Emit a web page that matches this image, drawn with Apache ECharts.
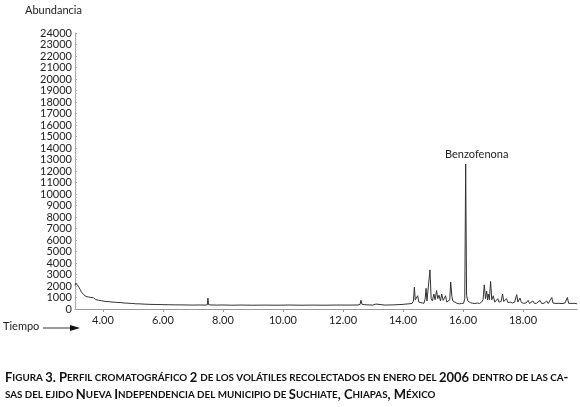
<!DOCTYPE html>
<html>
<head>
<meta charset="utf-8">
<script src="https://cdn.jsdelivr.net/npm/echarts@6/dist/echarts.min.js"></script>
<style>html,body{margin:0;padding:0;background:#fff}#c{width:580px;height:407px}</style>
</head>
<body>
<div id="c"></div>
<script>
// ---- data ----
var times = [
 3.07,3.10,3.13,3.16,3.20,3.24,3.28,3.32,3.36,3.40,3.44,3.48,3.52,3.56,3.60,3.64,3.68,3.72,3.76,3.80,
 3.85,3.90,3.95,4.00,4.10,4.20,4.30,4.40,4.50,4.60,4.70,4.80,4.90,5.00,5.05,5.10,5.20,5.40,5.60,5.80,
 6.00,6.20,6.40,6.60,6.80,7.00,7.20,7.40,7.48,7.50,7.52,7.60,7.80,8.00,8.30,8.60,9.00,9.40,9.80,10.20,
 10.60,11.00,11.40,11.80,12.20,12.50,12.57,12.60,12.63,12.70,12.80,13.00,13.10,13.15,13.40,13.70,13.90,14.00,14.10,14.20,
 14.30,14.35,14.38,14.41,14.45,14.49,14.53,14.60,14.65,14.70,14.74,14.77,14.80,14.85,14.90,14.94,14.98,15.03,15.07,15.12,
 15.16,15.20,15.25,15.29,15.34,15.38,15.42,15.46,15.52,15.56,15.59,15.63,15.66,15.72,15.80,15.88,15.95,16.02,16.06,16.09,
 16.12,16.16,16.20,16.25,16.32,16.40,16.48,16.55,16.62,16.67,16.71,16.75,16.79,16.82,16.84,16.88,16.92,16.96,17.01,17.06,
 17.11,17.16,17.20,17.27,17.32,17.36,17.40,17.45,17.50,17.58,17.65,17.72,17.79,17.83,17.90,17.95,18.02,18.10,18.17,18.22,
 18.33,18.38,18.45,18.57,18.62,18.70,18.79,18.84,18.90,18.96,19.00,19.10,19.20,19.30,19.40,19.48,19.52,19.60,19.70,19.80
];
var abundance = [
 2050,2250,2100,2200,1900,1700,1500,1350,1250,1150,1080,1000,1050,950,1000,900,980,850,820,780,
 760,700,720,680,650,640,600,590,560,560,520,510,490,480,560,450,450,420,400,390,
 380,370,360,360,350,340,350,340,360,950,380,350,340,350,330,345,330,340,330,345,
 330,340,330,345,340,350,400,760,420,380,360,340,430,340,340,360,390,400,430,450,
 480,700,1900,800,650,1150,600,550,720,500,900,1800,700,800,3400,900,700,1300,800,1600,
 900,1200,700,1300,750,600,1150,600,500,800,2350,1100,700,550,500,450,480,500,900,12600,
 1200,700,750,550,500,480,520,480,600,800,2100,900,1550,800,1300,800,2400,800,1150,600,
 700,900,600,650,1300,650,600,900,550,600,520,600,1250,600,950,550,500,520,750,480,
 700,480,500,750,480,500,700,480,500,1000,520,480,500,470,520,1000,500,480,500,450
];
var xTicks = [4, 6, 8, 10, 12, 14, 16, 18];
var peakLabelTime = 16.09;
var peakLabelValue = 12600;
var peakLabelText = 'Benzofenona';
var yTitle = 'Abundancia';
var xTitle = 'Tiempo';
var captionLine1 = 'Figura 3. Perfil cromatográfico 2 de los volátiles recolectados en enero del 2006 dentro de las ca-';
var captionLine2 = 'sas del ejido Nueva Independencia del municipio de Suchiate, Chiapas, México';

// ---- build ----
function smallCaps(s){
  var out = '', cur = null, buf = '';
  for (var i = 0; i < s.length; i++){
    var ch = s[i];
    var st;
    if (ch === ' ') st = cur || 'a';
    else st = (ch !== ch.toUpperCase()) ? 'b' : 'a';
    if (st !== cur && buf){ out += '{' + cur + '|' + buf + '}'; buf = ''; }
    cur = st; buf += ch.toUpperCase();
  }
  if (buf) out += '{' + cur + '|' + buf + '}';
  return out;
}
var capRich = {
  a: {fontFamily: 'Lato', fontWeight: 'bold', fontSize: 13, fill: '#111'},
  b: {fontFamily: 'Lato', fontWeight: 'bold', fontSize: 9.8, fill: '#111'}
};

var seriesData = times.map(function(t, i){ return [t, abundance[i]]; });

var chart = echarts.init(document.getElementById('c'), null, {renderer: 'canvas'});
chart.setOption({
  animation: false,
  backgroundColor: '#fff',
  grid: {left: 75, right: 3, top: 33, bottom: 98, containLabel: false},
  xAxis: {
    type: 'value', min: 3.07, max: 19.8,
    axisLine: {show: true, lineStyle: {color: '#999', width: 1}},
    axisTick: {show: true, customValues: xTicks, length: 3, lineStyle: {color: '#999'}},
    axisLabel: {customValues: xTicks, formatter: function(v){ return v.toFixed(2); },
      fontFamily: 'Lato', fontSize: 11, color: '#222', margin: 6},
    splitLine: {show: false}
  },
  yAxis: {
    type: 'value', min: 0, max: 24000, interval: 1000,
    axisLine: {show: true, lineStyle: {color: '#aaa', width: 1}},
    axisTick: {show: true, inside: true, length: 2, lineStyle: {color: '#aaa'}},
    minorTick: {show: true, splitNumber: 4, length: 1.5, lineStyle: {color: '#bbb'}},
    axisLabel: {formatter: function(v){ return String(v); },
      fontFamily: 'Lato', fontSize: 11, color: '#222', margin: 3},
    splitLine: {show: false}
  },
  series: [{
    type: 'line', data: seriesData, symbol: 'none', smooth: false,
    lineStyle: {color: '#333', width: 1},
    markPoint: {
      symbol: 'circle', symbolSize: 1, itemStyle: {color: 'rgba(0,0,0,0)'},
      data: [{coord: [peakLabelTime, peakLabelValue], value: peakLabelText}],
      label: {show: true, position: 'top', distance: 4, offset: [11, 0], formatter: peakLabelText,
        fontFamily: 'Lato', fontSize: 11, color: '#222'}
    }
  }],
  graphic: [
    {type: 'text', left: 25, top: 5, style: {text: yTitle, font: '11px Lato', fill: '#222'}},
    {type: 'text', left: 3, top: 321, style: {text: xTitle, font: '11px Lato', fill: '#222'}},
    {type: 'line', shape: {x1: 43, y1: 328, x2: 72, y2: 328}, style: {stroke: '#333', lineWidth: 1}},
    {type: 'polygon', shape: {points: [[70, 325], [80, 328], [70, 331]]}, style: {fill: '#111'}},
    {type: 'text', left: 5, top: 371, style: {text: smallCaps(captionLine1), rich: capRich}},
    {type: 'text', left: 5, top: 388, style: {text: smallCaps(captionLine2), rich: capRich}}
  ]
});
</script>
</body>
</html>
